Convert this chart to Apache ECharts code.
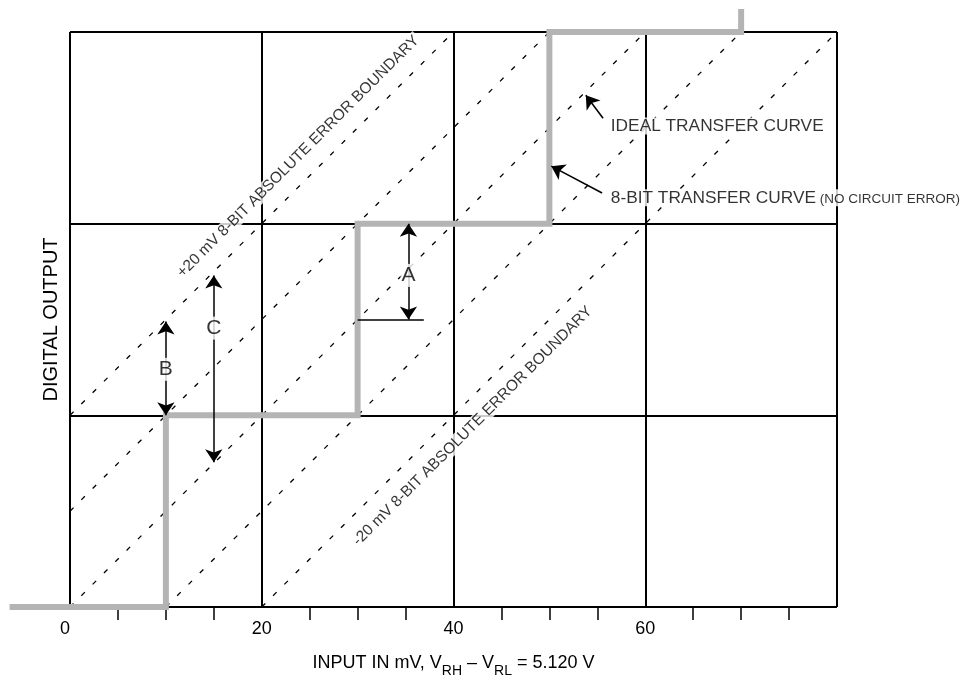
<!DOCTYPE html>
<html>
<head>
<meta charset="utf-8">
<script src="https://cdn.jsdelivr.net/npm/echarts@6/dist/echarts.min.js"></script>
<style>
  html, body { margin: 0; padding: 0; background: #fff; }
  #chart { width: 963px; height: 682px; }
</style>
</head>
<body>
<div id="chart"></div>
<script>
  // x: input in mV, y: output code (one grid row = 1 LSB = 20 mV)
  const xTickLabels = ['0', '20', '40', '60', ''];

  // 8-bit transfer curve (staircase)
  const stairX = [-6.3, 10, 10, 30, 30, 50, 50, 70, 70];
  const stairY = [0, 0, 1, 1, 2, 2, 3, 3, 3.12];

  // dashed lines, [x, code] end points
  const plus20Line = [[0, 1], [40, 3]];
  const plusHalfLine = [[0, 0.5], [50, 3]];
  const idealLine = [[0, 0], [60, 3]];
  const minusHalfLine = [[10, 0], [70, 3]];
  const minus20Line = [[20, 0], [80, 3]];

  // dimension arrows
  const dimA = [[35.3, 1.5], [35.3, 2]];
  const dimB = [[10, 1], [10, 1.49]];
  const dimC = [[15, 0.755], [15, 1.73]];
  const baseA = [[30, 1.5], [36.9, 1.5]];
  const idealPointer = [[55.6, 2.55], [53.8, 2.67]];
  const stairPointer = [[55.5, 2.16], [50.2, 2.3]];

  // text anchors
  const letterPos = { A: [35.3, 1.73], B: [10, 1.24], C: [15, 1.455] };
  const plusLabelPos = [23.8, 2.35];
  const minusLabelPos = [42.0, 0.944];
  const idealLabelPos = [56.2, 2.51];
  const stairLabelPos = [56.2, 2.135];

  const font = "'Liberation Sans Narrow', 'Liberation Sans', Arial, sans-serif";
  const ink = '#000';

  const chart = echarts.init(document.getElementById('chart'));

  function dashed(data) {
    return {
      type: 'line',
      data: data,
      symbol: 'none',
      silent: true,
      lineStyle: { color: '#000', width: 1.3, type: [5, 11] },
      z: 2
    };
  }

  chart.setOption({
    animation: false,
    backgroundColor: '#fff',
    textStyle: { fontFamily: font },
    grid: { left: 70, right: 126, top: 32, bottom: 75, outerBoundsMode: 'none' },
    xAxis: {
      type: 'value',
      min: 0,
      max: 80,
      interval: 20,
      axisLine: { show: false },
      axisTick: { show: false },
      minorTick: { show: true, splitNumber: 4, length: 13, lineStyle: { color: '#000', width: 1.5 } },
      splitLine: { show: true, lineStyle: { color: '#000', width: 2 } },
      axisLabel: {
        margin: 13,
        fontSize: 18,
        color: ink,
        fontFamily: font,
        alignMinLabel: 'right',
        formatter: function (v) { return xTickLabels[v / 20]; }
      },
      name: '{t|INPUT IN mV, V}{s|RH}{t| – V}{s|RL}{t| = 5.120 V}',
      nameLocation: 'middle',
      nameGap: 47,
      nameTextStyle: {
        rich: {
          t: { fontSize: 18, color: ink, fontFamily: font, lineHeight: 21, verticalAlign: 'top' },
          s: { fontSize: 14, color: ink, fontFamily: font, lineHeight: 15, padding: [10, 0, 0, 0], verticalAlign: 'top' }
        }
      }
    },
    yAxis: {
      type: 'value',
      min: 0,
      max: 3,
      interval: 1,
      axisLine: { show: false },
      axisTick: { show: false },
      axisLabel: { show: false },
      splitLine: { show: true, lineStyle: { color: '#000', width: 2 } },
      name: 'DIGITAL OUTPUT',
      nameLocation: 'middle',
      nameGap: 9,
      nameTextStyle: { fontSize: 20, color: ink, fontFamily: font }
    },
    series: [
      dashed(plus20Line),
      dashed(plusHalfLine),
      dashed(idealLine),
      dashed(minusHalfLine),
      dashed(minus20Line),
      {
        type: 'lines',
        coordinateSystem: 'cartesian2d',
        polyline: true,
        clip: false,
        silent: true,
        symbol: 'none',
        lineStyle: { color: '#b4b4b4', width: 6, join: 'miter', opacity: 1 },
        data: [{ coords: stairX.map(function (x, i) { return [x, stairY[i]]; }) }],
        z: 3
      },
      {
        type: 'lines',
        coordinateSystem: 'cartesian2d',
        silent: true,
        symbol: ['arrow', 'arrow'],
        symbolSize: 13,
        lineStyle: { color: '#000', width: 1.5, opacity: 1 },
        data: [{ coords: dimA }, { coords: dimB }, { coords: dimC }],
        z: 5
      },
      {
        type: 'lines',
        coordinateSystem: 'cartesian2d',
        silent: true,
        symbol: ['none', 'arrow'],
        symbolSize: 13,
        lineStyle: { color: '#000', width: 1.5, opacity: 1 },
        data: [{ coords: idealPointer }, { coords: stairPointer }],
        z: 5
      },
      {
        type: 'lines',
        coordinateSystem: 'cartesian2d',
        silent: true,
        symbol: 'none',
        lineStyle: { color: '#000', width: 1.5, opacity: 1 },
        data: [{ coords: baseA }],
        z: 5
      },
      {
        type: 'scatter',
        silent: true,
        symbolSize: 1,
        itemStyle: { color: 'rgba(0,0,0,0)' },
        z: 6,
        label: {
          show: true,
          position: 'inside',
          color: ink,
          textBorderWidth: 0,
          fontFamily: font,
          fontSize: 21,
          backgroundColor: '#fff',
          padding: [1, 1]
        },
        data: [
          { value: letterPos.A, label: { formatter: 'A' } },
          { value: letterPos.B, label: { formatter: 'B' } },
          { value: letterPos.C, label: { formatter: 'C' } },
          { value: plusLabelPos, label: { formatter: '+20 mV 8-BIT ABSOLUTE ERROR BOUNDARY', rotate: 45, fontSize: 15.5, padding: [0, 2] } },
          { value: minusLabelPos, label: { formatter: '-20 mV 8-BIT ABSOLUTE ERROR BOUNDARY', rotate: 45, fontSize: 15.5, padding: [0, 2] } },
          { value: idealLabelPos, label: { formatter: 'IDEAL TRANSFER CURVE', align: 'left', fontSize: 17.3, padding: [0, 2] } },
          {
            value: stairLabelPos,
            label: {
              formatter: '8-BIT TRANSFER CURVE{n| (NO CIRCUIT ERROR)}',
              align: 'left',
              fontSize: 17.3,
              padding: [0, 2],
              rich: { n: { fontSize: 13.5, color: ink, fontFamily: font, padding: [3, 0, 0, 0] } }
            }
          }
        ]
      }
    ]
  });
</script>
</body>
</html>
